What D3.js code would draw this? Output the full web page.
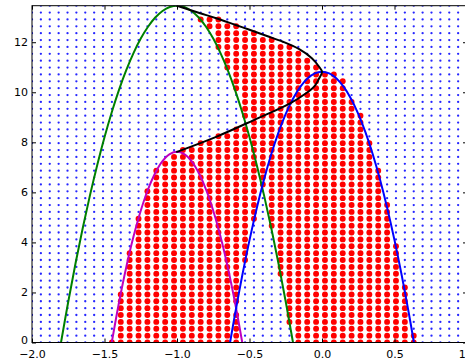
<!DOCTYPE html>
<html>
<head>
<meta charset="utf-8">
<script src="https://cdn.jsdelivr.net/npm/d3@7"></script>
<style>
  html, body { margin: 0; padding: 0; background: #ffffff; }
  svg { display: block; }
</style>
</head>
<body>
<svg id="chart" width="465" height="360"></svg>
<script>
// Sample grid (50 x 50)
const xGrid = [-2, -1.9388, -1.8776, -1.8163, -1.7551, -1.6939, -1.6327, -1.5714, -1.5102, -1.4490,
  -1.3878, -1.3265, -1.2653, -1.2041, -1.1429, -1.0816, -1.0204, -0.9592, -0.8980, -0.8367,
  -0.7755, -0.7143, -0.6531, -0.5918, -0.5306, -0.4694, -0.4082, -0.3469, -0.2857, -0.2245,
  -0.1633, -0.1020, -0.0408, 0.0204, 0.0816, 0.1429, 0.2041, 0.2653, 0.3265, 0.3878,
  0.4490, 0.5102, 0.5714, 0.6327, 0.6939, 0.7551, 0.8163, 0.8776, 0.9388, 1.0];
const yGrid = [0, 0.2747, 0.5494, 0.8241, 1.0988, 1.3735, 1.6482, 1.9229, 2.1976, 2.4722,
  2.7469, 3.0216, 3.2963, 3.5710, 3.8457, 4.1204, 4.3951, 4.6698, 4.9445, 5.2192,
  5.4939, 5.7686, 6.0433, 6.3180, 6.5927, 6.8673, 7.1420, 7.4167, 7.6914, 7.9661,
  8.2408, 8.5155, 8.7902, 9.0649, 9.3396, 9.6143, 9.8890, 10.1637, 10.4384, 10.7131,
  10.9878, 11.2624, 11.5371, 11.8118, 12.0865, 12.3612, 12.6359, 12.9106, 13.1853, 13.46];

// Grid points inside the region: [column, first row, last row]
const insideRuns = [
  [9, 0, 0], [10, 0, 7], [11, 0, 13], [12, 0, 18], [13, 0, 22], [14, 0, 25], [15, 0, 26],
  [16, 0, 27], [17, 0, 28], [18, 0, 28], [19, 0, 29], [19, 47, 47], [20, 0, 29], [20, 46, 47],
  [21, 0, 30], [21, 43, 47], [22, 0, 30], [22, 40, 46], [23, 0, 4], [23, 6, 31], [23, 37, 46],
  [24, 12, 31], [24, 33, 45], [25, 18, 45], [26, 23, 44], [27, 17, 44], [28, 10, 43],
  [29, 3, 43], [30, 0, 42], [31, 0, 41], [32, 0, 40], [33, 0, 39], [34, 0, 39], [35, 0, 38],
  [36, 0, 35], [37, 0, 33], [38, 0, 29], [39, 0, 25], [40, 0, 20], [41, 0, 14], [42, 0, 8],
  [43, 0, 1]
];

// Curves
const greenCurve = [[-1.8, 0], [-1.75, 1.630], [-1.7, 3.155], [-1.65, 4.574], [-1.6, 5.889],
  [-1.55, 7.098], [-1.5, 8.202], [-1.45, 9.201], [-1.4, 10.095], [-1.35, 10.884], [-1.3, 11.567],
  [-1.25, 12.145], [-1.2, 12.619], [-1.15, 12.987], [-1.1, 13.250], [-1.05, 13.407], [-1.0, 13.46],
  [-0.95, 13.407], [-0.9, 13.250], [-0.85, 12.987], [-0.8, 12.619], [-0.75, 12.145], [-0.7, 11.567],
  [-0.65, 10.884], [-0.6, 10.095], [-0.55, 9.201], [-0.5, 8.202], [-0.45, 7.098], [-0.4, 5.889],
  [-0.35, 4.574], [-0.3, 3.155], [-0.25, 1.630], [-0.2, 0]];
const magentaCurve = [[-1.45, 0], [-1.4, 1.600], [-1.35, 3.010], [-1.3, 4.233], [-1.25, 5.268],
  [-1.2, 6.115], [-1.15, 6.773], [-1.1, 7.244], [-1.05, 7.526], [-1.0, 7.62], [-0.95, 7.526],
  [-0.9, 7.244], [-0.85, 6.773], [-0.8, 6.115], [-0.75, 5.268], [-0.7, 4.233], [-0.65, 3.010],
  [-0.6, 1.600], [-0.55, 0]];
const blueCurve = [[-0.634, 0], [-0.6, 1.130], [-0.55, 2.677], [-0.5, 4.090], [-0.45, 5.369],
  [-0.4, 6.513], [-0.35, 7.522], [-0.3, 8.397], [-0.25, 9.138], [-0.2, 9.743], [-0.15, 10.214],
  [-0.1, 10.551], [-0.05, 10.753], [0, 10.82], [0.05, 10.753], [0.1, 10.551], [0.15, 10.214],
  [0.2, 9.743], [0.25, 9.138], [0.3, 8.397], [0.35, 7.522], [0.4, 6.513], [0.45, 5.369],
  [0.5, 4.090], [0.55, 2.677], [0.6, 1.130], [0.634, 0]];
const blackPath = [[-1.0, 13.46], [-0.92, 13.31], [-0.84, 13.16], [-0.73, 12.96], [-0.6, 12.70],
  [-0.5, 12.50], [-0.38, 12.25], [-0.27, 12.02], [-0.16, 11.73], [-0.07, 11.36], [-0.02, 11.02],
  [0.0, 10.82], [-0.02, 10.55], [-0.05, 10.26], [-0.11, 9.96], [-0.22, 9.56], [-0.47, 8.89],
  [-0.73, 8.22], [-1.0, 7.62]];

// Axes
const xTicks = [-2, -1.5, -1, -0.5, 0, 0.5, 1];
const xTickLabels = ["\u22122.0", "\u22121.5", "\u22121.0", "\u22120.5", "0.0", "0.5", "1.0"];
const yTicks = [0, 2, 4, 6, 8, 10, 12];
const yTickLabels = ["0", "2", "4", "6", "8", "10", "12"];

const svg = d3.select("#chart");
const plotL = 32, plotR = 467, plotT = 5.7, plotB = 342.5;
const x = d3.scaleLinear().domain([-2, 1]).range([plotL, plotR]);
const y = d3.scaleLinear().domain([0, 13.46]).range([plotB, plotT]);

svg.append("rect").attr("width", 465).attr("height", 360).attr("fill", "#ffffff");

svg.append("defs").append("clipPath").attr("id", "plotclip")
  .append("rect").attr("x", plotL).attr("y", plotT)
  .attr("width", plotR - plotL).attr("height", plotB - plotT);

const plot = svg.append("g").attr("clip-path", "url(#plotclip)");

// classify grid points
const inside = new Set();
insideRuns.forEach(([c, a, b]) => { for (let r = a; r <= b; r++) inside.add(c + ":" + r); });
const pts = [];
xGrid.forEach((xv, i) => yGrid.forEach((yv, j) => pts.push({ x: xv, y: yv, red: inside.has(i + ":" + j) })));

plot.append("g").selectAll("circle").data(pts.filter(d => !d.red)).join("circle")
  .attr("cx", d => x(d.x)).attr("cy", d => y(d.y)).attr("r", 1.15)
  .attr("fill", "#0000ff").attr("fill-opacity", 0.85);
plot.append("g").selectAll("circle").data(pts.filter(d => d.red)).join("circle")
  .attr("cx", d => x(d.x)).attr("cy", d => y(d.y)).attr("r", 2.95)
  .attr("fill", "#ff0000");

const smooth = d3.line().x(d => x(d[0])).y(d => y(d[1])).curve(d3.curveCatmullRom.alpha(0.5));
[[greenCurve, "#008000"], [magentaCurve, "#bf00bf"], [blueCurve, "#0000ff"], [blackPath, "#000000"]]
  .forEach(([data, color]) => {
    plot.append("path").datum(data).attr("d", smooth)
      .attr("fill", "none").attr("stroke", color).attr("stroke-width", 2)
      .attr("stroke-linejoin", "round").attr("stroke-linecap", "round");
  });

// axes with inward ticks on all four sides
const fmtX = d => xTickLabels[xTicks.indexOf(d)];
const fmtY = d => yTickLabels[yTicks.indexOf(d)];
const gB = svg.append("g").attr("transform", `translate(0,${plotB})`)
  .call(d3.axisBottom(x).tickValues(xTicks).tickFormat(fmtX).tickSizeInner(-4).tickSizeOuter(0).tickPadding(7.5));
const gT = svg.append("g").attr("transform", `translate(0,${plotT})`)
  .call(d3.axisTop(x).tickValues(xTicks).tickFormat("").tickSizeInner(-4).tickSizeOuter(0));
const gL = svg.append("g").attr("transform", `translate(${plotL},0)`)
  .call(d3.axisLeft(y).tickValues(yTicks).tickFormat(fmtY).tickSizeInner(-4).tickSizeOuter(0).tickPadding(4));
const gR = svg.append("g").attr("transform", `translate(${plotR},0)`)
  .call(d3.axisRight(y).tickValues(yTicks).tickFormat("").tickSizeInner(-4).tickSizeOuter(0));

[gB, gT, gL, gR].forEach(g => {
  g.select(".domain").remove();
  g.selectAll(".tick line").attr("stroke", "#000").attr("stroke-width", 1);
  g.selectAll("text").attr("font-family", "'DejaVu Sans', sans-serif").attr("font-size", 11).attr("fill", "#000");
});
// the "0" label sits a little higher so it clears the x labels below it
gL.selectAll(".tick").filter(d => d === 0).select("text").attr("dy", "0.12em");

// frame
svg.append("rect").attr("x", plotL).attr("y", plotT)
  .attr("width", plotR - plotL).attr("height", plotB - plotT)
  .attr("fill", "none").attr("stroke", "#000").attr("stroke-width", 1);
</script>
</body>
</html>
